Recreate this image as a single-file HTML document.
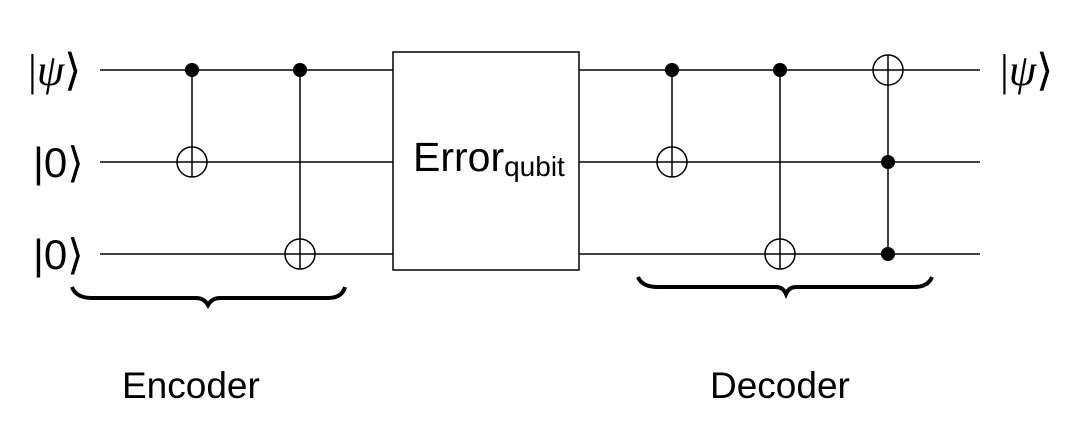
<!DOCTYPE html>
<html><head><meta charset="utf-8"><style>
html,body{margin:0;padding:0;background:#fff;}
svg{display:block;}
text{font-family:"Liberation Sans",sans-serif;fill:#000;}
.m{font-family:"Liberation Serif",serif;}
</style></head><body>
<svg width="1066" height="438" viewBox="0 0 1066 438">
<g stroke="#000" stroke-width="1.5" fill="none">
<line x1="100" y1="70" x2="393" y2="70"/>
<line x1="100" y1="162" x2="393" y2="162"/>
<line x1="100" y1="254" x2="393" y2="254"/>
<line x1="579" y1="70" x2="980" y2="70"/>
<line x1="579" y1="162" x2="980" y2="162"/>
<line x1="579" y1="254" x2="980" y2="254"/>
</g>
<rect x="393" y="52" width="186" height="218" fill="#fff" stroke="#000" stroke-width="1.5"/>
<text x="413" y="171" font-size="41">Error<tspan font-size="28" dy="5">qubit</tspan></text>
<g stroke="#000" stroke-width="1.5" fill="none">
<line x1="192" y1="70" x2="192" y2="177"/>
<circle cx="192" cy="162" r="15"/>
<line x1="300" y1="70" x2="300" y2="269"/>
<circle cx="300" cy="254" r="15"/>
<line x1="672" y1="70" x2="672" y2="177"/>
<circle cx="672" cy="162" r="15"/>
<line x1="780" y1="70" x2="780" y2="269"/>
<circle cx="780" cy="254" r="15"/>
<line x1="888" y1="55" x2="888" y2="254"/>
<circle cx="888" cy="70" r="15"/>
</g>
<g fill="#000">
<circle cx="192" cy="70" r="7"/><circle cx="300" cy="70" r="7"/>
<circle cx="672" cy="70" r="7"/><circle cx="780" cy="70" r="7"/>
<circle cx="888" cy="162" r="7"/><circle cx="888" cy="254" r="7"/>
</g>
<path d="M72,287 Q76,298 92,298 L196,298 Q204,298 208,305 Q212,298 220,298 L328,298 Q342,298 345,287" fill="none" stroke="#000" stroke-width="4"/>
<path d="M638,277 Q642,287 658,287 L776,287 Q783,287 786,294 Q789,287 796,287 L914,287 Q928,287 932,277" fill="none" stroke="#000" stroke-width="4"/>
<text x="28" y="85" font-size="44" class="m">|<tspan font-style="italic">ψ</tspan>⟩</text>
<text x="33" y="177" font-size="42">|0⟩</text>
<text x="33" y="269" font-size="42">|0⟩</text>
<text x="1000" y="85" font-size="44" class="m">|<tspan font-style="italic">ψ</tspan>⟩</text>
<text x="122" y="398" font-size="37">Encoder</text>
<text x="710" y="398" font-size="37">Decoder</text>
</svg>
</body></html>
